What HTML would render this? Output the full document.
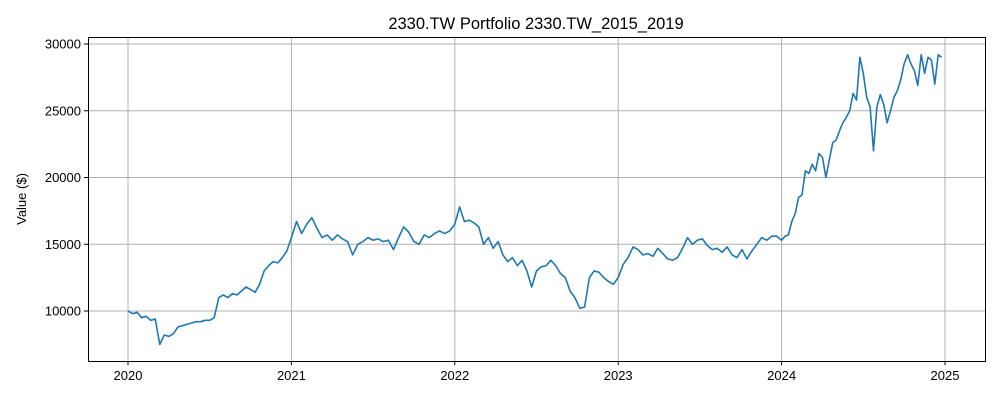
<!DOCTYPE html>
<html><head><meta charset="utf-8"><style>
html,body{margin:0;padding:0;background:#fff;}
svg{display:block;font-family:"Liberation Sans","DejaVu Sans",sans-serif;}
</style></head><body>
<svg id="chart" width="1000" height="400">
<text x="536" y="29" font-size="16.5" text-anchor="middle">2330.TW Portfolio 2330.TW_2015_2019</text>
<g id="grid"></g>
<g id="ticks"></g>
<path id="line" fill="none" stroke="#1f77b4" stroke-width="1.6" stroke-linejoin="round"></path>
<rect x="88.5" y="37.5" width="897" height="324" fill="none" stroke="#000" stroke-width="1"></rect>
<text transform="translate(26,199) rotate(-90)" font-size="13" text-anchor="middle">Value ($)</text>
</svg>
<script>
const years = [2020, 2021, 2022, 2023, 2024];
const values2020 = [10000,9800,9900,9500,9600,9300,9400,7500,8200,8100,8300,8800,8900,9000,9100,9200,9200,9300,9300,9500,11000,11200,11000,11300,11200,11500,11800,11600,11400,12000,13000,13400,13700,13600,14000,14500];
const values2021 = [15500,16700,15800,16500,17000,16200,15500,15700,15300,15700,15400,15200,14200,15000,15200,15500,15300,15400,15200,15300,14600,15500,16300,15900,15200,15000,15700,15500,15800,16000,15800,16000];
const values2022 = [16500,17800,16700,16800,16600,16300,15000,15500,14700,15200,14200,13700,14000,13400,13800,13000,11800,13000,13300,13400,13800,13400,12800,12500,11500,11000,10200,10300,12500,13000,12900,12500,12200,12000];
const values2023 = [12500,13500,14000,14800,14600,14200,14300,14100,14700,14300,13900,13800,14000,14700,15500,15000,15300,15400,14900,14600,14700,14400,14800,14200,14000,14600,13900,14500,15000,15500,15300,15600,15600];
const values2024 = [15300,15600,15700,16700,17300,18500,18700,20500,20300,21000,20500,21800,21500,20000,21300,22600,22800,23500,24100,24500,25000,26300,25800,29000,27800,26000,25300,22000,25300,26200,25500,24100,25000,26000,26500,27300,28500,29200,28500,28000,26900,29200,27800,29000,28800,27000,29200,29000];
const yTicks = [10000, 15000, 20000, 25000, 30000];
const xTicks = [2020, 2021, 2022, 2023, 2024, 2025];

const X0=88, X1=985, Y0=37, Y1=361;
function xs(t){ return 128 + (t-2020)*163.4; }
function ys(v){ return 311 - (v-10000)*66.75/5000; }

const NS="http://www.w3.org/2000/svg";
const grid=document.getElementById('grid');
const ticks=document.getElementById('ticks');
function mk(tag, attrs, parent){ const e=document.createElementNS(NS,tag); for(const k in attrs) e.setAttribute(k,attrs[k]); parent.appendChild(e); return e; }

xTicks.forEach(t=>{
  const x=xs(t);
  const g=mk('line',{x1:x,x2:x,y1:Y0,y2:Y1,stroke:'#b0b0b0','stroke-width':1},grid);
  
  
  const tk=mk('line',{x1:x,x2:x,y1:Y1,y2:Y1+4,stroke:'#000','stroke-width':1},ticks);
  
  
  const lb=mk('text',{x:x,y:Y1+19,'font-size':13,'text-anchor':'middle'},ticks);
  lb.textContent=t;
  
  
});
yTicks.forEach(v=>{
  const y=ys(v);
  const g=mk('line',{x1:X0,x2:X1,y1:y,y2:y,stroke:'#b0b0b0','stroke-width':1},grid);
  
  
  const tk=mk('line',{x1:X0-4,x2:X0,y1:y,y2:y,stroke:'#000','stroke-width':1},ticks);
  
  
  const lb=mk('text',{x:X0-7,y:y+4.5,'font-size':13,'text-anchor':'end'},ticks);
  lb.textContent=v;
  
  
});

const series=[values2020,values2021,values2022,values2023,values2024];
let d='';
series.forEach((arr,i)=>{
  arr.forEach((v,j)=>{
    const t=years[i]+j/arr.length;
    d+=(d?'L':'M')+xs(t).toFixed(1)+','+ys(v).toFixed(1);
  });
});
document.getElementById('line').setAttribute('d',d);
</script>
</body></html>
